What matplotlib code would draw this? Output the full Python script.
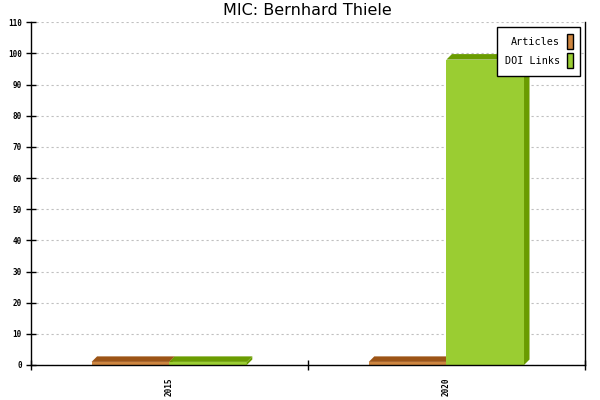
import matplotlib
matplotlib.use("Agg")
import matplotlib.pyplot as plt
from matplotlib.patches import Polygon, Patch

years = ['2015', '2020']
articles = [1, 1]
doi_links = [1, 98]

series = [
    ('Articles', articles, '#CD853F', '#9C5416'),
    ('DOI Links', doi_links, '#9ACD32', '#6A9C00'),
]

fig = plt.figure(figsize=(6, 4), dpi=100)
ax = fig.add_axes([0.051, 0.0875, 0.924, 0.857])

ax.set_xlim(0, len(years))
ax.set_ylim(0, 110)

# bar width in category units, 3d depth in pixels
w = 0.28
depth = 5.5
ax_w = 0.924 * 600
ax_h = 0.857 * 400
dx = depth * len(years) / ax_w
dy = depth * 110 / ax_h

for k, (name, vals, front, dark) in enumerate(series):
    for i, v in enumerate(vals):
        x0 = i + 0.5 - w + k * w
        x1 = x0 + w
        ax.bar(x0, v, width=w, align='edge', color=front, linewidth=0, zorder=3)
        top = Polygon([(x0, v), (x0 + dx, v + dy), (x1 + dx, v + dy), (x1, v)],
                      closed=True, facecolor=dark, edgecolor='none', zorder=3)
        side = Polygon([(x1, 0), (x1 + dx, dy), (x1 + dx, v + dy), (x1, v)],
                       closed=True, facecolor=dark, edgecolor='none', zorder=3)
        ax.add_patch(top)
        ax.add_patch(side)

mono = 'DejaVu Sans Mono'

ax.set_yticks(range(0, 111, 10))
ax.set_yticklabels([str(t) for t in range(0, 111, 10)], fontsize=5.5, family=mono,
                   fontweight='bold')
ax.set_xticks(range(len(years) + 1))
ax.set_xticklabels([''] * (len(years) + 1))
ax.set_xticks([i + 0.5 for i in range(len(years))], minor=True)
ax.set_xticklabels(years, minor=True, rotation=90, fontsize=5.5, family=mono,
                   fontweight='bold')
ax.tick_params(axis='both', which='major', direction='inout', length=6.5, width=1, pad=3)
ax.tick_params(axis='x', which='minor', length=0, pad=9)

ax.grid(axis='y', color='#C0C0C0', linestyle=(0, (2, 2.5)), linewidth=0.8)
ax.set_axisbelow(True)

ax.spines['top'].set_visible(False)
for s in ['left', 'right', 'bottom']:
    ax.spines[s].set_linewidth(1)
    ax.spines[s].set_zorder(4)

ax.set_title('MIC: Bernhard Thiele', fontsize=11.5, family='DejaVu Sans', pad=5)

handles = [Patch(facecolor=c, edgecolor='black', linewidth=1) for _, _, c, _ in series]
leg = ax.legend(handles, [s[0] for s in series], loc='upper right', markerfirst=False,
                prop={'family': mono, 'size': 7.3}, fancybox=False, framealpha=1,
                edgecolor='black', handlelength=0.6, handleheight=1.9,
                handletextpad=0.7, labelspacing=0.4, borderpad=0.75, borderaxespad=0.45)
leg.get_frame().set_linewidth(1)
leg.set_zorder(10)

fig.savefig('out.png', dpi=100)
